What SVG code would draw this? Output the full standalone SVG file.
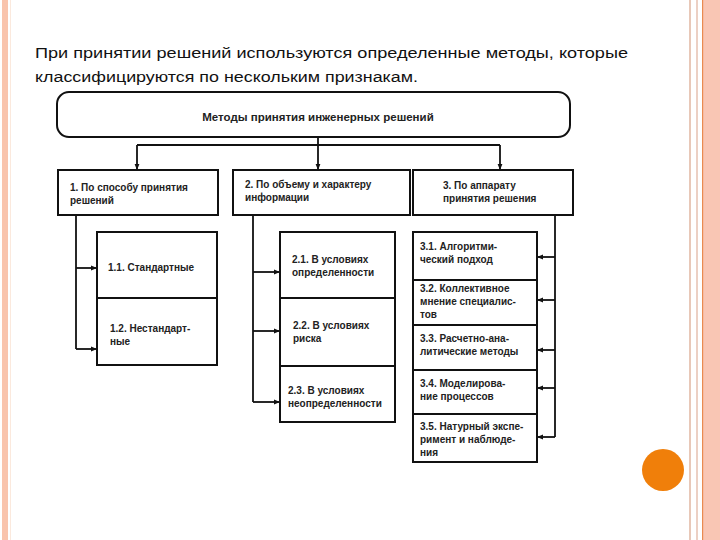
<svg xmlns="http://www.w3.org/2000/svg" width="720" height="540" viewBox="0 0 720 540">
<defs>
<style>
.box{fill:#fff;stroke:#111;stroke-width:2}
.ln{fill:none;stroke:#111;stroke-width:1.8}
.t{font-family:"Liberation Sans",Arial,sans-serif;font-size:10px;font-weight:bold;fill:#222}
.hd{font-family:"Liberation Sans",Arial,sans-serif;font-size:15.5px;fill:#111}
</style>
<marker id="ar" viewBox="0 0 10 10" refX="10" refY="5" markerWidth="6" markerHeight="6" orient="auto" markerUnits="userSpaceOnUse">
<path d="M0,1 L10,5 L0,9 z" fill="#111"/>
</marker>
</defs>
<rect width="720" height="540" fill="#fff"/>
<!-- decorative borders -->
<rect x="2" y="0" width="6" height="540" fill="#f9c4ad"/>
<rect x="10" y="0" width="1" height="540" fill="#fbe9dd"/>
<rect x="689" y="0" width="2" height="540" fill="#e8c8b8"/>
<rect x="696" y="0" width="2" height="540" fill="#ecd0c4"/>
<rect x="703" y="0" width="17" height="540" fill="#f9c6b4"/>
<rect x="702" y="0" width="1.2" height="540" fill="#e98a50"/>
<circle cx="663" cy="470" r="21" fill="#f07f0a"/>

<text class="hd" x="35" y="58" textLength="593" lengthAdjust="spacingAndGlyphs">При принятии решений используются определенные методы, которые</text>
<text class="hd" x="35" y="82" textLength="383" lengthAdjust="spacingAndGlyphs">классифицируются по нескольким признакам.</text>

<g id="connectors">
<path class="ln" d="M318,137 V145 M137,145 H500"/>
<path class="ln" d="M137,145 V170" marker-end="url(#ar)"/>
<path class="ln" d="M318,145 V170" marker-end="url(#ar)"/>
<path class="ln" d="M500,145 V170" marker-end="url(#ar)"/>
<path class="ln" d="M76,215 V349"/>
<path class="ln" d="M76,268 H97" marker-end="url(#ar)"/>
<path class="ln" d="M76,349 H97" marker-end="url(#ar)"/>
<path class="ln" d="M253,215 V402"/>
<path class="ln" d="M253,272 H280" marker-end="url(#ar)"/>
<path class="ln" d="M253,331 H280" marker-end="url(#ar)"/>
<path class="ln" d="M253,402 H280" marker-end="url(#ar)"/>
<path class="ln" d="M555,215 V437"/>
<path class="ln" d="M555,257 H537" marker-end="url(#ar)"/>
<path class="ln" d="M555,300 H537" marker-end="url(#ar)"/>
<path class="ln" d="M555,350 H537" marker-end="url(#ar)"/>
<path class="ln" d="M555,388 H537" marker-end="url(#ar)"/>
<path class="ln" d="M555,437 H537" marker-end="url(#ar)"/>
</g>

<g id="root">
<rect class="box" x="57" y="92" width="513" height="45" rx="12"/>
<text class="t" x="318" y="121" text-anchor="middle" style="font-size:11.5px">Методы принятия инженерных решений</text>
</g>

<g id="n1">
<rect class="box" x="58" y="170" width="160" height="45"/>
<text class="t" x="70" y="191">1. По способу принятия</text>
<text class="t" x="70" y="204">решений</text>
</g>
<g id="n2">
<rect class="box" x="233" y="170" width="177" height="45"/>
<text class="t" x="245" y="188">2. По объему и характеру</text>
<text class="t" x="245" y="201">информации</text>
</g>
<g id="n3">
<rect class="box" x="413" y="170" width="160" height="45"/>
<text class="t" x="443" y="189">3. По аппарату</text>
<text class="t" x="443" y="202">принятия решения</text>
</g>

<g id="n11">
<rect class="box" x="97" y="232" width="120" height="66"/>
<text class="t" x="108" y="271">1.1. Стандартные</text>
</g>
<g id="n12">
<rect class="box" x="97" y="298" width="120" height="67"/>
<text class="t" x="110" y="332">1.2. Нестандарт-</text>
<text class="t" x="110" y="345">ные</text>
</g>

<g id="n21">
<rect class="box" x="280" y="232" width="115" height="66"/>
<text class="t" x="292" y="263">2.1. В условиях</text>
<text class="t" x="292" y="276">определенности</text>
</g>
<g id="n22">
<rect class="box" x="280" y="298" width="115" height="68"/>
<text class="t" x="293" y="329">2.2. В условиях</text>
<text class="t" x="293" y="342">риска</text>
</g>
<g id="n23">
<rect class="box" x="280" y="366" width="115" height="56"/>
<text class="t" x="288" y="394">2.3. В условиях</text>
<text class="t" x="288" y="407">неопределенности</text>
</g>

<g id="n31">
<rect class="box" x="413" y="232" width="124" height="48"/>
<text class="t" x="420" y="250">3.1. Алгоритми-</text>
<text class="t" x="420" y="263">ческий подход</text>
</g>
<g id="n32">
<rect class="box" x="413" y="280" width="124" height="45"/>
<text class="t" x="420" y="292">3.2. Коллективное</text>
<text class="t" x="420" y="305">мнение специалис-</text>
<text class="t" x="420" y="318">тов</text>
</g>
<g id="n33">
<rect class="box" x="413" y="325" width="124" height="45"/>
<text class="t" x="420" y="342">3.3. Расчетно-ана-</text>
<text class="t" x="420" y="355">литические методы</text>
</g>
<g id="n34">
<rect class="box" x="413" y="370" width="124" height="44"/>
<text class="t" x="420" y="387">3.4. Моделирова-</text>
<text class="t" x="420" y="400">ние процессов</text>
</g>
<g id="n35">
<rect class="box" x="413" y="414" width="124" height="48"/>
<text class="t" x="420" y="430">3.5. Натурный экспе-</text>
<text class="t" x="420" y="443">римент и наблюде-</text>
<text class="t" x="420" y="456">ния</text>
</g>
</svg>
